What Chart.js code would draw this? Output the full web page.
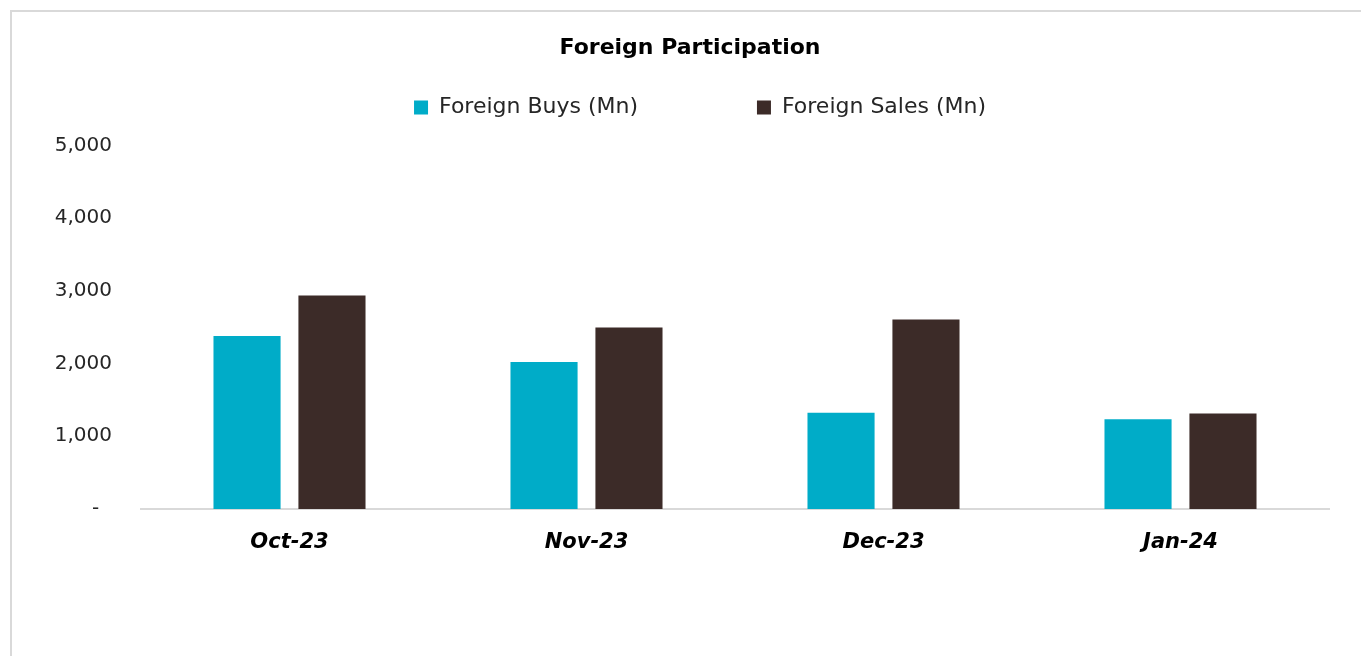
<!DOCTYPE html>
<html>
<head>
<meta charset="utf-8">
<script src="https://cdn.jsdelivr.net/npm/chart.js@4.4.1/dist/chart.umd.min.js"></script>
<style>
    body { margin: 0; background: #fff; overflow: hidden; }
    #frame { position: absolute; left: 10px; top: 10px; width: 1400px; height: 700px; border-left: 2px solid #d9d9d9; border-top: 2px solid #d9d9d9; }
    #wrap { position: absolute; left: 0; top: 0; width: 1361px; height: 656px; }
</style>
</head>
<body>
<div id="frame"></div>
<div id="wrap"><canvas id="foreignChart"></canvas></div>
<script>
const months = ['Oct-23', 'Nov-23', 'Dec-23', 'Jan-24'];
const foreignBuys = [2380, 2020, 1325, 1235];
const foreignSales = [2935, 2497, 2606, 1313];
const yTicks = [0, 1000, 2000, 3000, 4000, 5000];

const fontFamily = "'DejaVu Sans', sans-serif";

window.onload = () => {
    const ctx = document.getElementById('foreignChart');

    const data = {
        labels: months,
        datasets: [
            {
                label: 'Foreign Buys (Mn)',
                data: foreignBuys,
                backgroundColor: '#00acc8',
                categoryPercentage: 0.572,
                barPercentage: 0.79
            },
            {
                label: 'Foreign Sales (Mn)',
                data: foreignSales,
                backgroundColor: '#3c2b28',
                categoryPercentage: 0.572,
                barPercentage: 0.79
            }
        ]
    };

    const config = {
        type: 'bar',
        data: data,
        options: {
            responsive: true,
            maintainAspectRatio: false,
            animation: false,
            layout: {
                padding: { left: 51, right: 32, top: 0, bottom: 0 }
            },
            plugins: {
                tooltip: { enabled: false },
                title: {
                    display: true,
                    text: 'Foreign Participation',
                    color: '#000',
                    font: { family: fontFamily, size: 22, weight: 'bold' },
                    padding: { top: 35, bottom: 35 }
                },
                legend: {
                    position: 'top',
                    fullSize: false,
                    labels: {
                        color: '#262626',
                        font: { family: fontFamily, size: 22 },
                        boxWidth: 14,
                        boxHeight: 14,
                        padding: 0,
                        generateLabels: (chart) => {
                            const items = Chart.defaults.plugins.legend.labels.generateLabels(chart);
                            // wide gap between the entries, row pulled left a bit
                            items[0].text = items[0].text + ' '.repeat(17);
                            items[1].text = items[1].text + ' '.repeat(10);
                            return items;
                        }
                    }
                },
                // empty spacer between legend and plot
                subtitle: {
                    display: true,
                    text: ' ',
                    weight: 500,
                    font: { size: 10 },
                    padding: { top: 5, bottom: 0 }
                }
            },
            scales: {
                x: {
                    grid: { display: false, drawTicks: false },
                    border: { display: true, color: '#d9d9d9', width: 2 },
                    ticks: {
                        color: '#000',
                        padding: 21,
                        font: { family: fontFamily, size: 21, weight: 'bold', style: 'italic' }
                    },
                    afterFit: (scale) => { scale.height = 147; }
                },
                y: {
                    min: 0,
                    max: 5000,
                    grid: { display: false, drawTicks: false },
                    border: { display: false },
                    afterBuildTicks: (scale) => {
                        scale.ticks = yTicks.map((v) => ({ value: v }));
                    },
                    ticks: {
                        color: '#262626',
                        padding: 29,
                        font: { family: fontFamily, size: 20 },
                        callback: (v) => v === 0 ? '-  ' : v.toLocaleString('en-US')
                    },
                    afterFit: (scale) => { scale.width = 90; }
                }
            }
        }
    };

    new Chart(ctx, config);
};
</script>
</body>
</html>
